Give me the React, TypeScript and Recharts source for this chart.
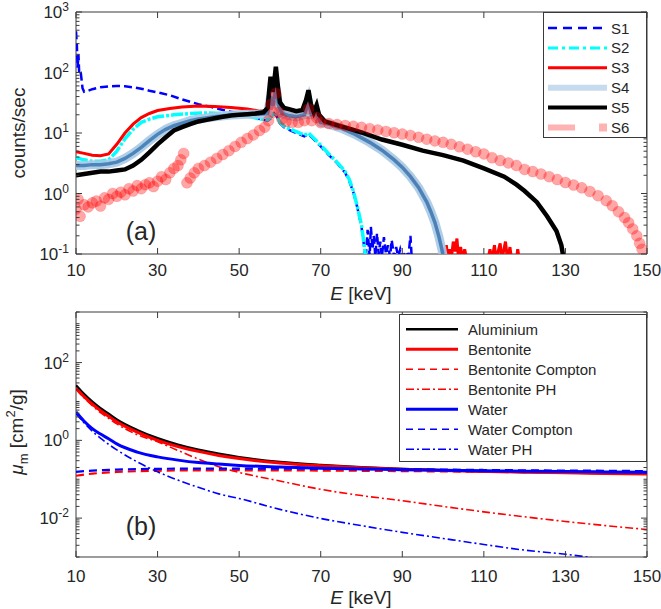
import React from 'react'
import { LineChart, Line, XAxis, YAxis, Legend, ReferenceArea } from 'recharts'

type Pt = [number, number]
type Box = { left: number; right: number; top: number; bottom: number }

const FONT = '"Liberation Sans", Arial, Helvetica, sans-serif'
const INK = '#262626'
const FRAME = '#3a3a3a'

// (a) measured spectra: [energy keV, counts/sec]
const s1: Pt[] = [
  [10, 480], [10.2, 300], [10.4, 120], [10.6, 200], [10.8, 90], [11.2, 95], [11.6, 55], [12, 48],
  [13, 50], [14, 53], [16, 57], [18, 59], [20, 60], [22, 59], [24, 57], [26, 54], [28, 50], [30, 47],
  [33, 42], [36, 36], [40, 30], [43, 27], [46, 24], [50, 21], [53, 19], [55, 17], [57, 16], [58, 18],
  [58.6, 21], [59.2, 19], [60, 14.5], [61, 12.5], [62, 11.5], [64, 10], [66, 8.8], [67, 9.6], [68, 8.2],
  [70, 6], [72, 4.3], [74, 3.2], [76, 2.2], [77, 1.6], [78, 1.05], [79, 0.58], [80, 0.28], [80.6, 0.14],
  [81, 0.08], [81.5, 0.25], [82, 0.09], [82.3, 0.28], [82.7, 0.12], [83, 0.2], [83.4, 0.09], [83.8, 0.22],
  [84.2, 0.1], [84.6, 0.16], [85, 0.09], [85.5, 0.19], [86, 0.1], [86.5, 0.14], [87, 0.09], [87.4, 0.17],
  [88, 0.09], [88.5, 0.13], [89, 0.09], [89.5, 0.12], [90, 0.09], [91, 0.11], [91.5, 0.09], [92, 0.2],
  [92.3, 0.09], [93, 0.09],
]

const s2: Pt[] = [
  [10, 3.9], [12, 3.6], [14, 3.4], [16, 3.4], [18, 3.6], [20, 5], [22, 8], [24, 11.5], [26, 15], [28, 17],
  [30, 18.5], [34, 20], [38, 21], [42, 21.5], [46, 21], [50, 20], [53, 18.5], [55, 17], [57, 16.5],
  [58, 19], [58.6, 22], [59.2, 20], [60, 15], [61, 13], [62, 12], [64, 10.5], [66, 9.2], [67, 10],
  [68, 8.6], [70, 6.3], [72, 4.5], [74, 3.3], [76, 2.3], [77, 1.7], [78, 1.1], [79, 0.6], [80, 0.3],
  [80.6, 0.15], [81.2, 0.07],
]

const s3: Pt[] = [
  [10, 4.9], [12, 4.6], [14, 4.3], [16, 4.2], [18, 4.5], [20, 6.5], [22, 10], [24, 14], [26, 18], [28, 21],
  [30, 23.5], [33, 25.5], [36, 27], [40, 28], [44, 27.5], [48, 26.5], [52, 25], [55, 23], [57, 24],
  [57.7, 55], [58.3, 35], [59, 75], [59.7, 35], [60.5, 24], [62, 21.5], [64, 20], [66, 22], [67, 38],
  [67.7, 22], [69, 22], [70, 16], [72, 14.5], [75, 12.5], [78, 10], [80, 8.5], [82, 7.2], [85, 5.3],
  [88, 3.7], [90, 2.8], [92, 2], [94, 1.3], [96, 0.75], [97, 0.52], [98, 0.34], [99, 0.2], [99.7, 0.12],
  [100.2, 0.08], [100.8, 0.14], [101.2, 0.08], [101.6, 0.12], [102, 0.08], [102.5, 0.16], [103, 0.11],
  [103.4, 0.18], [103.8, 0.08], [104.3, 0.13], [104.8, 0.08], [105.3, 0.12], [105.8, 0.08], [111, 0.08],
  [111.5, 0.12], [112, 0.08], [112.6, 0.14], [113, 0.08], [114, 0.15], [114.4, 0.08], [115.3, 0.16],
  [115.8, 0.08], [116.4, 0.13], [116.8, 0.08], [118, 0.08], [118.3, 0.12], [118.7, 0.08],
]

const s4: Pt[] = [
  [10, 2.9], [12, 2.9], [14, 3.0], [16, 3.0], [18, 3.1], [20, 3.3], [22, 3.8], [24, 4.6], [26, 5.8],
  [28, 7.5], [30, 9.5], [32, 11.5], [34, 13.2], [36, 14.5], [38, 16], [40, 17], [44, 18.5], [48, 19.8],
  [52, 20.5], [55, 20.5], [57, 21], [57.7, 40], [58.3, 28], [59, 55], [59.7, 28], [60.5, 21], [62, 19.5],
  [64, 18.5], [66, 20], [67, 32], [67.7, 20], [69, 20], [70, 15], [72, 14], [75, 12], [78, 9.8], [80, 8.3],
  [82, 7], [85, 5.2], [88, 3.6], [90, 2.7], [92, 1.9], [94, 1.25], [96, 0.72], [97, 0.5], [98, 0.33],
  [99, 0.19], [99.7, 0.12], [100.2, 0.08],
]

const s5: Pt[] = [
  [10, 2.0], [12, 2.1], [14, 2.2], [16, 2.3], [18, 2.3], [20, 2.4], [22, 2.5], [24, 2.9], [26, 3.6],
  [28, 4.8], [30, 6.5], [32, 8.5], [34, 11], [36, 12.5], [38, 14], [40, 15.5], [42, 16.5], [44, 17.5],
  [46, 18.5], [48, 19.5], [50, 20], [52, 20.5], [54, 21], [56, 22], [57, 26], [57.3, 45], [57.7, 85],
  [58.2, 48], [58.6, 70], [59, 125], [59.5, 60], [60, 32], [61, 26], [62, 25], [64, 23], [65.5, 24],
  [66.4, 35], [67, 51], [67.6, 30], [68.3, 22], [69, 29], [69.6, 20], [71, 15.6], [74, 13.5], [77, 11.8],
  [80, 10.2], [85, 7.8], [90, 6.4], [95, 5.1], [100, 4.3], [105, 3.5], [110, 2.6], [115, 1.9], [118, 1.4],
  [120, 1.1], [123, 0.72], [125.5, 0.42], [127.8, 0.24], [129, 0.14], [129.6, 0.08],
]

const s6: Pt[] = [
  [10, 0.55], [10.5, 0.8], [11, 0.42], [12, 0.65], [13, 0.6], [14, 0.7], [15, 0.75], [16, 0.62], [17, 0.85],
  [18, 0.8], [19, 1.0], [20, 0.9], [21, 1.05], [22, 0.95], [23, 1.2], [24, 1.1], [25, 1.35], [26, 1.2],
  [27, 1.4], [28, 1.5], [29, 1.3], [30, 1.6], [31, 1.9], [32, 1.7], [33, 2.2], [34, 2.6], [35, 2.9],
  [35.7, 3.6], [36.4, 4.6], [37.2, 1.5], [38, 1.8], [39, 2.2], [40, 2.6], [41.5, 2.9], [43, 3.3],
  [44.5, 3.8], [46, 4.4], [47.5, 5.1], [49, 6.0], [50.5, 7.0], [52, 8.1], [53.5, 9.3], [55, 11],
  [56.3, 12.5], [57.2, 16], [57.8, 30], [58.4, 22], [59, 45], [59.7, 22], [60.5, 17], [61.5, 15.5],
  [63, 15], [64.5, 15], [66, 16], [67, 25], [67.8, 16], [69, 18], [70, 14.8], [72, 14.3], [74, 13.8],
  [76, 13.3], [78, 12.9], [80, 12.4], [82, 11.8], [84, 11.2], [86, 10.6], [88, 10.1], [90, 9.6], [92, 9.1],
  [94, 8.5], [96, 7.9], [98, 7.4], [100, 7.0], [102, 6.5], [104, 5.9], [106, 5.4], [108, 4.9], [110, 4.5],
  [112, 3.9], [114, 3.5], [116, 3.2], [118, 2.9], [120, 2.5], [122, 2.3], [124, 2.1], [126, 1.9], [128, 1.7],
  [130, 1.52], [132, 1.38], [134, 1.24], [136, 1.08], [138, 0.92], [140, 0.76], [141.5, 0.63], [143, 0.5],
  [144.5, 0.4], [145.5, 0.33], [146.5, 0.26], [147.5, 0.2], [148.2, 0.15], [148.8, 0.12],
]

const energyTicks = [10, 30, 50, 70, 90, 110, 130, 150]

// (b) mass attenuation coefficients, cm^2/g
const muEnergy = [10, 12, 14, 16, 18, 20, 25, 30, 35, 40, 45, 50, 60, 70, 80, 90, 100, 110, 120, 130, 140, 150]
const aluminium = [26.2, 15.5, 9.9, 6.7, 4.8, 3.44, 1.84, 1.13, 0.77, 0.57, 0.45, 0.368, 0.278, 0.232, 0.202, 0.184, 0.17, 0.161, 0.154, 0.148, 0.143, 0.138]
const bentonite = [22, 13.2, 8.5, 5.8, 4.15, 3.0, 1.62, 1.0, 0.69, 0.52, 0.41, 0.34, 0.262, 0.222, 0.196, 0.18, 0.168, 0.159, 0.152, 0.146, 0.141, 0.137]
const bentoniteCompton = [0.123, 0.132, 0.139, 0.145, 0.15, 0.154, 0.161, 0.165, 0.168, 0.169, 0.17, 0.17, 0.169, 0.167, 0.165, 0.162, 0.159, 0.156, 0.153, 0.15, 0.147, 0.144]
const bentonitePH = [21, 12.3, 7.8, 5.2, 3.7, 2.65, 1.4, 0.92, 0.55, 0.33, 0.21, 0.15, 0.09, 0.055, 0.038, 0.028, 0.02, 0.0145, 0.0108, 0.0082, 0.0064, 0.0051]
const water = [5.33, 3.1, 2.0, 1.45, 1.1, 0.81, 0.5, 0.376, 0.31, 0.268, 0.245, 0.227, 0.206, 0.193, 0.184, 0.176, 0.171, 0.165, 0.161, 0.157, 0.154, 0.151]
const waterCompton = [0.155, 0.161, 0.166, 0.17, 0.174, 0.177, 0.182, 0.185, 0.187, 0.188, 0.188, 0.188, 0.187, 0.185, 0.182, 0.18, 0.177, 0.173, 0.17, 0.167, 0.165, 0.162]
const waterPH = [4.94, 2.8, 1.72, 1.14, 0.79, 0.57, 0.28, 0.155, 0.095, 0.062, 0.042, 0.032, 0.0168, 0.0098, 0.0064, 0.0043, 0.003, 0.0021, 0.0015, 0.00118, 0.00085, 0.0006]

const muRows = muEnergy.map((E, i) => ({
  E,
  al: aluminium[i],
  bent: bentonite[i],
  bentC: bentoniteCompton[i],
  bentPH: bentonitePH[i],
  wat: water[i],
  watC: waterCompton[i],
  watPH: waterPH[i],
}))

const toRows = (pts: Pt[]) => pts.map(([E, v]) => ({ E, v }))

// 1..9 x 10^n inside [lo, hi]
const logTicks = (lo: number, hi: number) => {
  const out: number[] = []
  for (let d = Math.floor(Math.log10(lo)); d <= Math.ceil(Math.log10(hi)); d++) {
    for (let k = 1; k <= 9; k++) {
      const v = +(k * Math.pow(10, d)).toPrecision(6)
      if (v >= lo * 0.999 && v <= hi * 1.001) out.push(v)
    }
  }
  return out
}

const TOP: Box = { left: 76, right: 647, top: 12, bottom: 254 }
const BOT: Box = { left: 76, right: 647, top: 12, bottom: 257 }

// inward ticks on both bottom and top edges
const xTick = (box: Box, labelY: number) => (p: any) => (
  <g>
    <line x1={p.x} x2={p.x} y1={box.bottom} y2={box.bottom - 6} stroke={FRAME} />
    <line x1={p.x} x2={p.x} y1={box.top} y2={box.top + 6} stroke={FRAME} />
    <text x={p.x} y={labelY} textAnchor="middle" dominantBaseline="central" fontSize={17} fill={INK} fontFamily={FONT}>
      {p.payload.value}
    </text>
  </g>
)

// inward ticks on left and right edges, labels 10^n for the listed exponents
const yTick = (box: Box, labelled: number[]) => (p: any) => {
  const v = p.payload.value
  const e = Math.log10(v)
  const n = Math.round(e)
  const major = Math.abs(e - n) < 1e-6 && labelled.includes(n)
  const len = major ? 6 : 3.5
  return (
    <g>
      <line x1={box.left} x2={box.left + len} y1={p.y} y2={p.y} stroke={FRAME} />
      <line x1={box.right} x2={box.right - len} y1={p.y} y2={p.y} stroke={FRAME} />
      {major && (
        <text x={box.left - 7} y={p.y + 6} textAnchor="end" fontSize={17} fill={INK} fontFamily={FONT}>
          10
          <tspan dy={-7} fontSize={12}>{n}</tspan>
        </text>
      )}
    </g>
  )
}

type Sample = { stroke: string; width: number; dash?: string; opacity?: number; square?: boolean }

const topLegendStyles: Record<string, Sample> = {
  S1: { stroke: '#0000ff', width: 2.5, dash: '9 6' },
  S2: { stroke: '#00ffff', width: 3, dash: '10 4 3 4' },
  S3: { stroke: '#ff0000', width: 3 },
  S4: { stroke: '#c6dbee', width: 6 },
  S5: { stroke: '#000000', width: 4 },
  S6: { stroke: '#ff0000', width: 6, opacity: 0.3, square: true },
}

const botLegendStyles: Record<string, Sample> = {
  Aluminium: { stroke: '#000000', width: 2.5 },
  Bentonite: { stroke: '#ff0000', width: 3 },
  'Bentonite Compton': { stroke: '#ff0000', width: 1.6, dash: '7 5' },
  'Bentonite PH': { stroke: '#ff0000', width: 1.6, dash: '8 3 2 3' },
  Water: { stroke: '#0000ff', width: 3 },
  'Water Compton': { stroke: '#0000ff', width: 1.6, dash: '7 5' },
  'Water PH': { stroke: '#0000ff', width: 1.6, dash: '8 3 2 3' },
}

const legendBox = (
  styles: Record<string, Sample>,
  w: number,
  h: number,
  y0: number,
  dy: number,
  x1: number,
  x2: number,
  tx: number,
) => (props: any) => {
  const items = (props.payload || []).filter((it: any) => styles[it.value])
  return (
    <svg width={w} height={h} style={{ display: 'block' }}>
      <rect x={0.5} y={0.5} width={w - 1} height={h - 1} fill="#fff" stroke={FRAME} />
      {items.map((it: any, i: number) => {
        const s = styles[it.value]
        const y = y0 + i * dy
        return (
          <g key={it.value}>
            {s.square ? (
              <>
                <line x1={x1} x2={x1 + 27} y1={y} y2={y} stroke={s.stroke} strokeOpacity={s.opacity} strokeWidth={s.width} />
                <rect x={x2 - 8} y={y - 4} width={8} height={8} fill={s.stroke} fillOpacity={s.opacity} />
              </>
            ) : (
              <line x1={x1} x2={x2} y1={y} y2={y} stroke={s.stroke} strokeWidth={s.width} strokeDasharray={s.dash} strokeOpacity={s.opacity ?? 1} />
            )}
            <text x={tx} y={y} dominantBaseline="central" fontSize={15} fill={INK} fontFamily={FONT}>
              {it.value}
            </text>
          </g>
        )
      })}
    </svg>
  )
}

const overlay = (x: number, y: number, size: number, rotate = false): React.CSSProperties => ({
  position: 'absolute',
  left: x,
  top: y,
  transform: `translate(-50%, -50%)${rotate ? ' rotate(-90deg)' : ''}`,
  fontSize: size,
  fontFamily: FONT,
  color: INK,
  whiteSpace: 'nowrap',
  lineHeight: 1,
})

export default function App() {
  const noDot = { dot: false as const, activeDot: false as const, isAnimationActive: false }
  return (
    <div style={{ position: 'absolute', left: 0, top: 0, width: 661, height: 609, background: '#fff', overflow: 'hidden' }}>
      <div style={{ position: 'absolute', left: 0, top: 0 }}>
        <LineChart width={661} height={300} margin={{ top: 12, right: 14, bottom: 0, left: 0 }} style={{ overflow: 'visible' }}>
          <XAxis dataKey="E" type="number" domain={[10, 150]} ticks={energyTicks} interval={0} allowDataOverflow axisLine={false} tickLine={false} tick={xTick(TOP, 270)} height={46} />
          <YAxis type="number" scale="log" domain={[0.1, 1000]} ticks={logTicks(0.1, 1000)} interval={0} allowDataOverflow axisLine={false} tickLine={false} tick={yTick(TOP, [-1, 0, 1, 2, 3])} width={76} />
          <Line data={toRows(s1)} dataKey="v" name="S1" type="linear" stroke="#0000ff" strokeWidth={2.5} strokeDasharray="8 4" {...noDot} />
          <Line data={toRows(s2)} dataKey="v" name="S2" type="linear" stroke="#00ffff" strokeWidth={3.5} strokeDasharray="12 2 3 2" {...noDot} />
          <Line data={toRows(s3)} dataKey="v" name="S3" type="linear" stroke="#ff0000" strokeWidth={3} {...noDot} />
          <Line data={toRows(s4)} dataKey="v" name="S4" type="linear" stroke="#a9c9e6" strokeWidth={9} strokeOpacity={0.9} {...noDot} />
          <Line data={toRows(s4)} dataKey="v" name="S4 core" legendType="none" type="linear" stroke="#3a78b2" strokeWidth={3.5} strokeOpacity={0.85} {...noDot} />
          <Line data={toRows(s5)} dataKey="v" name="S5" type="linear" stroke="#000000" strokeWidth={4.5} {...noDot} />
          <Line
            data={toRows(s6)}
            dataKey="v"
            name="S6"
            type="linear"
            stroke="none"
            dot={{ r: 5.5, fill: '#ff0000', fillOpacity: 0.35, stroke: '#ff0000', strokeOpacity: 0.15, strokeWidth: 1 }}
            activeDot={false}
            isAnimationActive={false}
          />
          <ReferenceArea x1={10} x2={150} y1={0.1} y2={1000} fill="none" stroke={FRAME} strokeWidth={1} ifOverflow="visible" />
          <Legend
            layout="vertical"
            align="center"
            verticalAlign="middle"
            wrapperStyle={{ left: 543, top: 12, width: 104, height: 126 }}
            content={legendBox(topLegendStyles, 104, 126, 16, 19.9, 5, 64, 68)}
          />
        </LineChart>
      </div>

      <div style={{ position: 'absolute', left: 0, top: 300 }}>
        <LineChart width={661} height={309} data={muRows} margin={{ top: 12, right: 14, bottom: 0, left: 0 }}>
          <XAxis dataKey="E" type="number" domain={[10, 150]} ticks={energyTicks} interval={0} allowDataOverflow axisLine={false} tickLine={false} tick={xTick(BOT, 276)} height={52} />
          <YAxis type="number" scale="log" domain={[0.001, 2000]} ticks={logTicks(0.001, 2000)} interval={0} allowDataOverflow axisLine={false} tickLine={false} tick={yTick(BOT, [-2, 0, 2])} width={76} />
          <Line dataKey="al" name="Aluminium" type="monotone" stroke="#000000" strokeWidth={2.5} {...noDot} />
          <Line dataKey="bent" name="Bentonite" type="monotone" stroke="#ff0000" strokeWidth={3} {...noDot} />
          <Line dataKey="bentC" name="Bentonite Compton" type="monotone" stroke="#ff0000" strokeWidth={2.2} strokeDasharray="8 5" {...noDot} />
          <Line dataKey="bentPH" name="Bentonite PH" type="monotone" stroke="#ff0000" strokeWidth={1.6} strokeDasharray="8 3 2 3" {...noDot} />
          <Line dataKey="wat" name="Water" type="monotone" stroke="#0000ff" strokeWidth={3} {...noDot} />
          <Line dataKey="watC" name="Water Compton" type="monotone" stroke="#0000ff" strokeWidth={2.2} strokeDasharray="8 5" {...noDot} />
          <Line dataKey="watPH" name="Water PH" type="monotone" stroke="#0000ff" strokeWidth={1.6} strokeDasharray="8 3 2 3" {...noDot} />
          <ReferenceArea x1={10} x2={150} y1={0.001} y2={2000} fill="none" stroke={FRAME} strokeWidth={1} ifOverflow="visible" />
          <Legend
            layout="vertical"
            align="center"
            verticalAlign="middle"
            wrapperStyle={{ left: 399, top: 14, width: 248, height: 148 }}
            content={legendBox(botLegendStyles, 248, 148, 15.3, 20, 7, 59, 69)}
          />
        </LineChart>
      </div>

      <div style={overlay(18, 133, 19, true)}>counts/sec</div>
      <div style={overlay(361, 293, 19)}>
        <i>E</i> [keV]
      </div>
      <div style={overlay(141, 231, 25)}>(a)</div>

      <div style={overlay(17, 432, 19, true)}>
        <i>μ</i>
        <sub style={{ fontSize: 13 }}>m</sub> [cm<sup style={{ fontSize: 13 }}>2</sup>/g]
      </div>
      <div style={overlay(361, 597, 19)}>
        <i>E</i> [keV]
      </div>
      <div style={overlay(141, 526, 25)}>(b)</div>
    </div>
  )
}
